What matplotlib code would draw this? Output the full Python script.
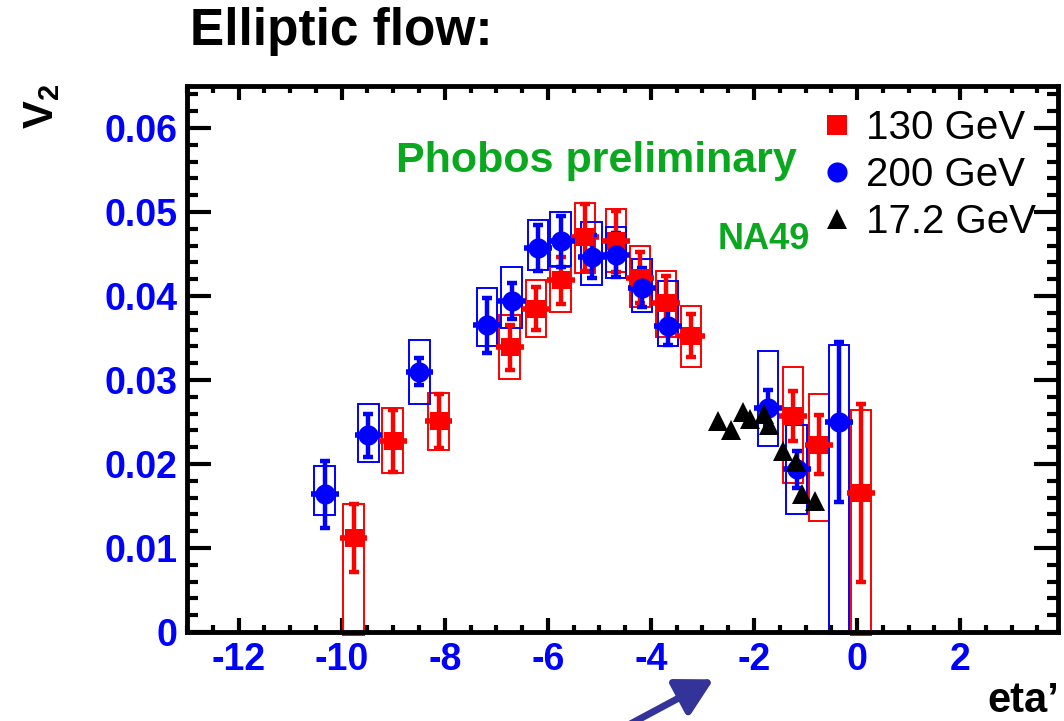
import matplotlib
matplotlib.use("Agg")
import matplotlib.pyplot as plt
from matplotlib.patches import Rectangle, FancyArrowPatch
from matplotlib.lines import Line2D
from matplotlib.ticker import MultipleLocator, FuncFormatter

plt.rcParams['font.family'] = ['Liberation Sans', 'DejaVu Sans']
plt.rcParams['axes.unicode_minus'] = False
plt.rcParams['mathtext.fontset'] = 'custom'
plt.rcParams['mathtext.rm'] = 'Liberation Sans'
plt.rcParams['mathtext.bf'] = 'Liberation Sans:bold'

# ---- data ----
# 130 GeV (red squares)
eta130 = [-9.77, -9.01, -8.12, -6.74, -6.23, -5.75, -5.28, -4.68, -4.21, -3.71, -3.22, -1.24, -0.74, 0.08]
v130 = [0.0112, 0.0227, 0.0251, 0.0339, 0.0385, 0.0419, 0.0470, 0.0465, 0.0422, 0.0392, 0.0353, 0.0257, 0.0223, 0.0166]
stat130 = [0.0041, 0.0037, 0.0032, 0.0027, 0.0026, 0.0028, 0.0040, 0.0036, 0.0030, 0.0032, 0.0026, 0.0030, 0.0035, 0.0106]
syslo130 = [-0.0004, 0.0189, 0.0217, 0.0301, 0.0351, 0.0381, 0.0427, 0.0428, 0.0387, 0.0351, 0.0316, 0.0177, 0.0132, -0.0004]
syshi130 = [0.0153, 0.0267, 0.0284, 0.0377, 0.0419, 0.0435, 0.0511, 0.0504, 0.0459, 0.0430, 0.0388, 0.0316, 0.0283, 0.0264]

# 200 GeV (blue circles)
eta200 = [-10.33, -9.48, -8.49, -7.18, -6.70, -6.19, -5.75, -5.15, -4.68, -4.17, -3.67, -1.73, -1.17, -0.35]
v200 = [0.0164, 0.0234, 0.0310, 0.0365, 0.0394, 0.0457, 0.0465, 0.0447, 0.0449, 0.0410, 0.0364, 0.0267, 0.0194, 0.0250]
stat200 = [0.0040, 0.0026, 0.0016, 0.0033, 0.0021, 0.0027, 0.0030, 0.0026, 0.0026, 0.0023, 0.0022, 0.0021, 0.0022, 0.0095]
syslo200 = [0.0139, 0.0202, 0.0272, 0.0341, 0.0362, 0.0431, 0.0436, 0.0413, 0.0422, 0.0381, 0.0340, 0.0221, 0.0141, -0.0002]
syshi200 = [0.0198, 0.0272, 0.0348, 0.0409, 0.0434, 0.0491, 0.0500, 0.0488, 0.0482, 0.0444, 0.0418, 0.0334, 0.0247, 0.0342]

# NA49 17.2 GeV (black triangles)
eta172 = [-2.70, -2.45, -2.21, -2.08, -1.81, -1.71, -1.44, -1.18, -1.07, -0.82]
v172 = [0.0251, 0.0241, 0.0262, 0.0254, 0.0259, 0.0247, 0.0216, 0.0203, 0.0164, 0.0156]

legend_labels = ['130 GeV', '200 GeV', '17.2 GeV']

# ---- figure ----
fig = plt.figure(figsize=(10.64, 7.21), dpi=100)
ax = fig.add_axes([0.1758, 0.1234, 0.8186, 0.7573])

BOX_HW = 0.2
XBAR = 0.27
RED = '#ff0000'
BLUE = '#0000ff'
GREEN = '#0aa81e'

def draw_series(eta, v, stat, lo, hi, color, marker, ms):
    for e, l, h in zip(eta, lo, hi):
        ax.add_patch(Rectangle((e - BOX_HW, l), 2 * BOX_HW, h - l, fill=False,
                               edgecolor=color, linewidth=1.4, clip_on=False, zorder=2))
    ax.errorbar(eta, v, yerr=stat, fmt='none', ecolor=color, elinewidth=3.2,
                capsize=3.6, capthick=3.2, zorder=3)
    ax.errorbar(eta, v, xerr=XBAR, fmt='none', ecolor=color, elinewidth=4.0,
                capsize=0, zorder=3)
    ax.plot(eta, v, linestyle='none', marker=marker, ms=ms, color=color,
            markeredgewidth=0, zorder=4)

draw_series(eta130, v130, stat130, syslo130, syshi130, RED, 's', 13.5)
draw_series(eta200, v200, stat200, syslo200, syshi200, BLUE, 'o', 14.5)
ax.plot(eta172, v172, linestyle='none', marker='^', ms=14, color='black',
        markeredgewidth=0, zorder=6)

ax.set_xlim(-13.0, 3.9)
ax.set_ylim(0, 0.065)

ax.xaxis.set_major_locator(MultipleLocator(2))
ax.xaxis.set_minor_locator(MultipleLocator(0.5))
ax.yaxis.set_major_locator(MultipleLocator(0.01))
ax.yaxis.set_minor_locator(MultipleLocator(0.002))
ax.yaxis.set_major_formatter(FuncFormatter(lambda y, p: '0' if abs(y) < 1e-9 else '%.2f' % y))
ax.xaxis.set_major_formatter(FuncFormatter(lambda x, p: '%d' % round(x)))

for s in ax.spines.values():
    s.set_linewidth(3.5)

ax.tick_params(axis='both', which='both', direction='in', top=True, right=True,
               width=3, color='black')
ax.tick_params(axis='x', which='major', length=10, pad=7)
ax.tick_params(axis='x', which='minor', length=5)
ax.tick_params(axis='y', which='major', length=17, pad=7)
ax.tick_params(axis='y', which='minor', length=8)
for lab in ax.get_xticklabels() + ax.get_yticklabels():
    lab.set_color(BLUE)
    lab.set_fontweight('bold')
    lab.set_fontsize(27)

# legend
handles = [Line2D([], [], linestyle='none', marker='s', ms=14, color=RED, markeredgewidth=0),
           Line2D([], [], linestyle='none', marker='o', ms=14.5, color=BLUE, markeredgewidth=0),
           Line2D([], [], linestyle='none', marker='^', ms=14.5, color='black', markeredgewidth=0)]
ax.legend(handles, legend_labels, loc='upper left', bbox_to_anchor=(0.7300, 0.957),
          frameon=False, fontsize=29, handlelength=0.7, handletextpad=0.38,
          labelspacing=0.22, borderpad=0, borderaxespad=0)

ax.text(0.4696, 0.8425, 'Phobos preliminary', transform=ax.transAxes, ha='center',
        va='baseline', fontsize=31, fontweight='bold', color=GREEN)
ax.text(0.6097, 0.7015, 'NA49', transform=ax.transAxes, ha='left', va='baseline',
        fontsize=26, fontweight='bold', color=GREEN)

fig.text(0.1786, 0.9376, 'Elliptic flow:', ha='left', va='baseline', fontsize=37,
         fontweight='bold', color='black')
fig.text(0.040, 0.852, r'$\mathbf{V}_{\mathbf{2}}$', rotation=90, ha='center', va='center',
         fontsize=30, color='black')
fig.text(0.996, 0.012, "eta\u2019", ha='right', va='baseline', fontsize=30,
         fontweight='bold', color='black')

fig.patches.append(FancyArrowPatch(
    (0.585, -0.01), (0.673, 0.0596), transform=fig.transFigure,
    arrowstyle='-|>,head_length=1.1,head_width=0.6', mutation_scale=20,
    color='#333399', linewidth=5))

fig.savefig('out.png', dpi=100)
